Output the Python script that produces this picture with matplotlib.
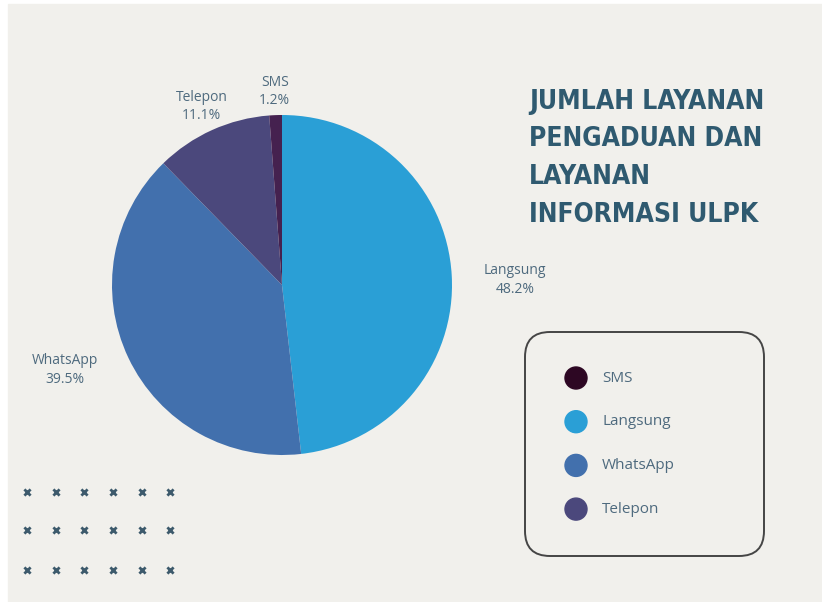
import numpy as np
import matplotlib.pyplot as plt
from matplotlib.patches import FancyBboxPatch, Rectangle, Circle

W, H = 822, 602

# data
channels = ['Langsung', 'WhatsApp', 'Telepon', 'SMS']
shares = [48.2, 39.5, 11.1, 1.2]
pie_colors = ['#2a9fd6', '#4270ad', '#4b487c', '#45214f']
label_dist = [1.37, 1.37, 1.15, 1.14]
label_turn = [-2, -4, 0, 0]  # small angular nudge of the labels, degrees

legend_names = ['SMS', 'Langsung', 'WhatsApp', 'Telepon']
legend_colors = ['#2d0723', '#2a9fd6', '#4270ad', '#4b487c']

title_lines = ['JUMLAH LAYANAN', 'PENGADUAN DAN', 'LAYANAN', 'INFORMASI ULPK']

BG = '#f1f0ec'
TXT = '#4e6a7e'
TITLE_C = '#2f5a70'


def py(y):
    # pixel row (from top) to data y
    return H - y


fig = plt.figure(figsize=(W / 100, H / 100), dpi=100, facecolor='white')
ax = fig.add_axes([0, 0, 1, 1])
ax.add_patch(Rectangle((8, 0), W - 8, H - 4, color=BG, zorder=0))

# pie
cx, cy, r = 282, py(285), 170
wedges, _ = ax.pie(shares, colors=pie_colors, startangle=90, counterclock=False,
                   center=(cx, cy), radius=r, frame=True,
                   wedgeprops=dict(linewidth=0))
for w, name, val, d, t in zip(wedges, channels, shares, label_dist, label_turn):
    mid = np.deg2rad((w.theta1 + w.theta2) / 2 + t)
    tx = cx + r * d * np.cos(mid)
    ty = cy + r * d * np.sin(mid)
    ax.text(tx, ty, f'{name}\n{val:.1f}%', ha='center', va='center',
            fontsize=10, color=TXT, family='Open Sans', linespacing=1.3)

# title
for i, line in enumerate(title_lines):
    ax.text(529, py(102 + i * 37.5), line, ha='left', va='center',
            fontsize=19, fontweight='bold', fontstretch='condensed',
            color=TITLE_C, family='DejaVu Sans')

# legend box
box = FancyBboxPatch((525 + 25, py(556) + 25), 239 - 50, 224 - 50,
                     boxstyle='round,pad=25', facecolor='none',
                     edgecolor='#454545', linewidth=1.4, zorder=2)
ax.add_patch(box)
for i, (name, col) in enumerate(zip(legend_names, legend_colors)):
    yy = py(378 + i * 43.7)
    ax.add_patch(Circle((576, yy), 11, color=col, zorder=3))
    ax.text(602, yy, name, ha='left', va='center', fontsize=11,
            color=TXT, family='Open Sans')

# decorative x marks
xs = [27, 56, 84, 113, 142, 170]
ys = [492, 530, 570]
gx = [x for y in ys for x in xs]
gy = [py(y) for y in ys for x in xs]
ax.scatter(gx, gy, marker='x', s=20, linewidths=2, color='#3d5a6c', zorder=3)

ax.set_xlim(0, W)
ax.set_ylim(0, H)
ax.set_aspect('auto')
ax.axis('off')

fig.savefig('out.png', dpi=100, facecolor='white')
